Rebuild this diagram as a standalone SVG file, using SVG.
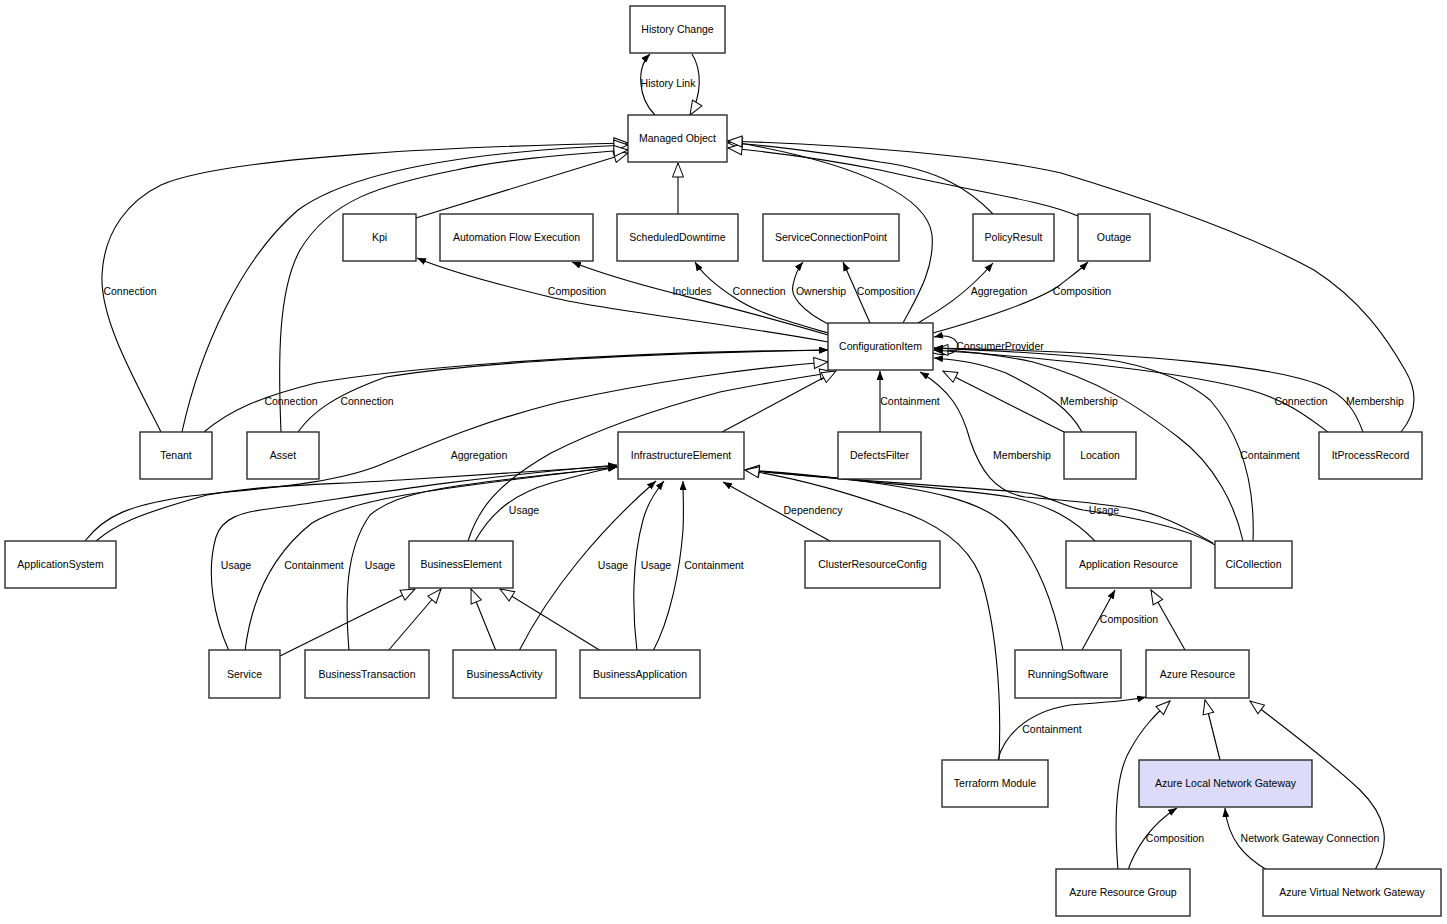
<svg xmlns="http://www.w3.org/2000/svg" width="1447" height="924" viewBox="0 0 1447 924">
<style>
.node rect{fill:#fff;stroke:#2b2b2b;stroke-width:1.4}
.node text,.lbl{font-family:"Liberation Sans",Arial,sans-serif;font-size:10.5px;fill:#000;text-anchor:middle}
.e{fill:none;stroke:#000;stroke-width:1.1}
.fa{marker-end:url(#f)}
.ha{marker-end:url(#h)}
</style>
<defs>
<marker id="f" viewBox="0 0 9 7" refX="9" refY="3.5" markerWidth="9" markerHeight="7" markerUnits="userSpaceOnUse" orient="auto"><path d="M0,0 L9,3.5 L0,7 z" fill="#000"/></marker>
<marker id="h" viewBox="-1 -1 16 13" refX="14" refY="5.5" markerWidth="16" markerHeight="13" markerUnits="userSpaceOnUse" orient="auto"><path d="M0,0 L14,5.5 L0,11 z" fill="#fff" stroke="#000" stroke-width="1"/></marker>
</defs>
<rect width="1447" height="924" fill="#fff"/>
<g id="connectors">
<path class="e fa" d="M655,115 C638,98 636,68 650,54"/>
<path class="e ha" d="M692,54 C702,70 702,95 690,115"/>
<path class="e ha" d="M678,214 L678,163"/>
<path class="e ha" d="M416,218 L628,153"/>
<path class="e ha" d="M161,432 C135,380 100,320 102,275 C104,230 130,200 161,185 C230,155 480,146 628,143"/>
<path class="e ha" d="M182,432 C200,350 240,260 298,210 C360,165 500,150 628,145"/>
<path class="e ha" d="M281,432 C278,360 278,290 300,250 C330,200 380,185 456,170 C500,160 560,155 628,150"/>
<path class="e ha" d="M903,323 C915,300 935,270 932,235 C928,200 870,165 728,141"/>
<path class="e ha" d="M993,214 C970,190 940,170 880,162 C820,152 770,145 728,143"/>
<path class="e ha" d="M1078,216 C1040,200 990,195 880,170 C820,158 770,152 728,148"/>
<path class="e ha" d="M1401,432 C1415,415 1420,395 1405,370 C1385,335 1360,300 1314,270 C1250,235 1150,200 1061,173 C980,155 850,145 728,141"/>
<path class="e fa" d="M828,342 C720,322 600,310 550,297 C500,285 450,272 417,258"/>
<path class="e fa" d="M828,335 C760,315 700,300 673,293 C630,282 600,273 572,262"/>
<path class="e fa" d="M828,333 C790,322 757,313 735,298 C718,287 703,275 695,262"/>
<path class="e fa" d="M830,325 C800,310 790,295 793,285 C795,275 798,268 803,262"/>
<path class="e fa" d="M870,323 L843,262"/>
<path class="e fa" d="M918,323 C940,310 965,295 993,263"/>
<path class="e fa" d="M933,333 C980,320 1040,300 1060,285 C1070,277 1080,270 1088,262"/>
<path class="e fa" d="M933,353 C950,358 960,350 958,345 C956,338 948,334 934,337"/>
<path class="e fa" d="M204,432 C230,410 260,397 316,383 C400,368 600,352 828,350"/>
<path class="e fa" d="M298,432 C310,415 330,397 386,377 C480,362 650,353 828,350"/>
<path class="e ha" d="M85,541 C105,515 130,505 190,496 C260,488 330,485 380,465 C430,445 470,425 560,402 C650,382 750,368 828,362"/>
<path class="e ha" d="M468,541 C478,510 495,485 551,453 C600,428 660,408 720,392 C770,382 805,377 834,372"/>
<path class="e ha" d="M722,432 L836,371"/>
<path class="e fa" d="M880,432 L880,371"/>
<path class="e ha" d="M1064,432 L943,371"/>
<path class="e fa" d="M1082,432 C1070,410 1050,395 1006,373 C980,363 960,360 934,358"/>
<path class="e fa" d="M1213,543 C1190,530 1160,512 1121,507 C1090,502 1060,500 1025,497 C995,492 980,470 970,440 C962,410 950,390 920,372"/>
<path class="e ha" d="M1243,541 C1235,505 1215,465 1178,437 C1140,408 1100,380 1033,362 C1000,355 960,350 934,350"/>
<path class="e fa" d="M1253,541 C1255,490 1245,440 1210,400 C1180,375 1130,360 1083,357 C1030,352 980,350 934,348"/>
<path class="e fa" d="M1328,432 C1305,415 1285,400 1250,390 C1200,377 1100,362 934,350"/>
<path class="e fa" d="M1363,432 C1355,410 1345,395 1320,385 C1280,368 1150,352 934,348"/>
<path class="e fa" d="M96,541 C115,525 135,515 207,495 C260,485 320,485 400,480 C480,475 560,470 617,466"/>
<path class="e fa" d="M229,651 C215,620 205,575 216,537 C222,518 240,512 275,508 C340,500 420,482 617,465"/>
<path class="e fa" d="M245,651 C250,610 265,560 312,523 C350,500 420,490 617,467"/>
<path class="e fa" d="M349,651 C345,600 345,550 370,515 C400,490 450,485 617,467"/>
<path class="e fa" d="M475,541 C490,515 510,495 551,483 C580,475 600,470 617,467"/>
<path class="e ha" d="M280,656 L415,589"/>
<path class="e ha" d="M388,651 L441,589"/>
<path class="e ha" d="M496,651 L471,589"/>
<path class="e ha" d="M601,651 L500,589"/>
<path class="e fa" d="M519,651 C550,590 600,530 656,481"/>
<path class="e fa" d="M637,651 C632,610 632,560 643,520 C647,505 655,492 664,481"/>
<path class="e fa" d="M653,651 C670,620 680,570 683,530 C684,510 683,495 683,481"/>
<path class="e fa" d="M830,541 L723,482"/>
<path class="e fa" d="M1215,545 C1190,530 1140,518 1083,510 C1060,506 1050,495 1020,492 C960,487 870,482 745,470"/>
<path class="e ha" d="M1096,542 C1075,520 1050,505 1010,497 C950,488 850,480 745,470"/>
<path class="e ha" d="M1063,650 C1055,610 1040,560 1006,525 C980,500 930,490 853,480 C810,475 780,472 745,470"/>
<path class="e ha" d="M999,760 C1002,690 995,620 980,575 C965,540 930,520 891,508 C840,490 790,477 745,470"/>
<path class="e fa" d="M1082,650 L1115,590"/>
<path class="e ha" d="M1185,650 L1151,590"/>
<path class="e fa" d="M998,760 C1003,738 1025,712 1070,705 C1100,702 1125,702 1146,697"/>
<path class="e ha" d="M1118,870 C1114,820 1115,775 1130,750 C1142,728 1155,715 1170,701"/>
<path class="e fa" d="M1128,870 C1135,850 1150,825 1177,808"/>
<path class="e ha" d="M1220,760 L1205,700"/>
<path class="e fa" d="M1267,870 C1245,857 1228,840 1225,808"/>
<path class="e ha" d="M1375,870 C1392,840 1385,815 1360,790 C1330,762 1295,735 1250,701"/>
</g>
<g id="labels">
<text class="lbl" x="668" y="87">History Link</text>
<text class="lbl" x="130" y="295">Connection</text>
<text class="lbl" x="577" y="295">Composition</text>
<text class="lbl" x="692" y="295">Includes</text>
<text class="lbl" x="759" y="295">Connection</text>
<text class="lbl" x="821" y="295">Ownership</text>
<text class="lbl" x="886" y="295">Composition</text>
<text class="lbl" x="999" y="295">Aggregation</text>
<text class="lbl" x="1082" y="295">Composition</text>
<text class="lbl" x="1000" y="350">ConsumerProvider</text>
<text class="lbl" x="291" y="405">Connection</text>
<text class="lbl" x="367" y="405">Connection</text>
<text class="lbl" x="910" y="405">Containment</text>
<text class="lbl" x="1089" y="405">Membership</text>
<text class="lbl" x="1301" y="405">Connection</text>
<text class="lbl" x="1375" y="405">Membership</text>
<text class="lbl" x="479" y="459">Aggregation</text>
<text class="lbl" x="1022" y="459">Membership</text>
<text class="lbl" x="1270" y="459">Containment</text>
<text class="lbl" x="524" y="514">Usage</text>
<text class="lbl" x="813" y="514">Dependency</text>
<text class="lbl" x="1104" y="514">Usage</text>
<text class="lbl" x="236" y="569">Usage</text>
<text class="lbl" x="314" y="569">Containment</text>
<text class="lbl" x="380" y="569">Usage</text>
<text class="lbl" x="613" y="569">Usage</text>
<text class="lbl" x="656" y="569">Usage</text>
<text class="lbl" x="714" y="569">Containment</text>
<text class="lbl" x="1129" y="623">Composition</text>
<text class="lbl" x="1052" y="733">Containment</text>
<text class="lbl" x="1175" y="842">Composition</text>
<text class="lbl" x="1310" y="842">Network Gateway Connection</text>
</g>
<g id="n-historychange" class="node"><rect x="630" y="6" width="95" height="47"/><text x="677.5" y="33">History Change</text></g>
<g id="n-managedobject" class="node"><rect x="628" y="115" width="99" height="47"/><text x="677.5" y="142">Managed Object</text></g>
<g id="n-kpi" class="node"><rect x="343" y="214" width="73" height="47"/><text x="379.5" y="241">Kpi</text></g>
<g id="n-automationflowexecution" class="node"><rect x="440" y="214" width="153" height="47"/><text x="516.5" y="241">Automation Flow Execution</text></g>
<g id="n-scheduleddowntime" class="node"><rect x="617" y="214" width="121" height="47"/><text x="677.5" y="241">ScheduledDowntime</text></g>
<g id="n-serviceconnectionpoint" class="node"><rect x="763" y="214" width="136" height="47"/><text x="831" y="241">ServiceConnectionPoint</text></g>
<g id="n-policyresult" class="node"><rect x="973" y="214" width="81" height="47"/><text x="1013.5" y="241">PolicyResult</text></g>
<g id="n-outage" class="node"><rect x="1078" y="214" width="72" height="47"/><text x="1114" y="241">Outage</text></g>
<g id="n-configurationitem" class="node"><rect x="828" y="323" width="105" height="47"/><text x="880.5" y="350">ConfigurationItem</text></g>
<g id="n-tenant" class="node"><rect x="140" y="432" width="72" height="47"/><text x="176" y="459">Tenant</text></g>
<g id="n-asset" class="node"><rect x="247" y="432" width="72" height="47"/><text x="283" y="459">Asset</text></g>
<g id="n-infrastructureelement" class="node"><rect x="618" y="432" width="126" height="47"/><text x="681" y="459">InfrastructureElement</text></g>
<g id="n-defectsfilter" class="node"><rect x="838" y="432" width="83" height="47"/><text x="879.5" y="459">DefectsFilter</text></g>
<g id="n-location" class="node"><rect x="1064" y="432" width="72" height="47"/><text x="1100" y="459">Location</text></g>
<g id="n-itprocessrecord" class="node"><rect x="1319" y="432" width="103" height="47"/><text x="1370.5" y="459">ItProcessRecord</text></g>
<g id="n-applicationsystem" class="node"><rect x="5" y="541" width="111" height="47"/><text x="60.5" y="568">ApplicationSystem</text></g>
<g id="n-businesselement" class="node"><rect x="409" y="541" width="104" height="47"/><text x="461" y="568">BusinessElement</text></g>
<g id="n-clusterresourceconfig" class="node"><rect x="805" y="541" width="135" height="47"/><text x="872.5" y="568">ClusterResourceConfig</text></g>
<g id="n-applicationresource" class="node"><rect x="1066" y="541" width="125" height="47"/><text x="1128.5" y="568">Application Resource</text></g>
<g id="n-cicollection" class="node"><rect x="1215" y="541" width="77" height="47"/><text x="1253.5" y="568">CiCollection</text></g>
<g id="n-service" class="node"><rect x="209" y="650" width="71" height="48"/><text x="244.5" y="678">Service</text></g>
<g id="n-businesstransaction" class="node"><rect x="305" y="650" width="124" height="48"/><text x="367" y="678">BusinessTransaction</text></g>
<g id="n-businessactivity" class="node"><rect x="453" y="650" width="103" height="48"/><text x="504.5" y="678">BusinessActivity</text></g>
<g id="n-businessapplication" class="node"><rect x="580" y="650" width="120" height="48"/><text x="640" y="678">BusinessApplication</text></g>
<g id="n-runningsoftware" class="node"><rect x="1015" y="650" width="106" height="48"/><text x="1068" y="678">RunningSoftware</text></g>
<g id="n-azureresource" class="node"><rect x="1146" y="650" width="103" height="48"/><text x="1197.5" y="678">Azure Resource</text></g>
<g id="n-terraformmodule" class="node"><rect x="942" y="760" width="106" height="47"/><text x="995" y="787">Terraform Module</text></g>
<g id="n-azurelocalnetworkgateway" class="node"><rect x="1139" y="760" width="173" height="47" style="fill:#dcdcfa"/><text x="1225.5" y="787">Azure Local Network Gateway</text></g>
<g id="n-azureresourcegroup" class="node"><rect x="1056" y="869" width="134" height="47"/><text x="1123" y="896">Azure Resource Group</text></g>
<g id="n-azurevirtualnetworkgateway" class="node"><rect x="1263" y="869" width="178" height="47"/><text x="1352" y="896">Azure Virtual Network Gateway</text></g>
</svg>
